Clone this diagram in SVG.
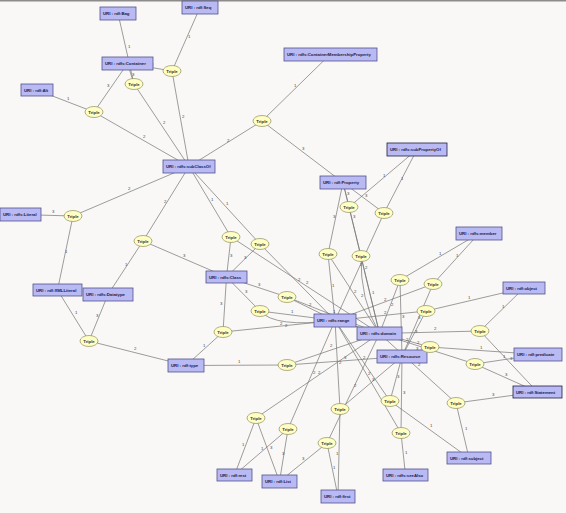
<svg xmlns="http://www.w3.org/2000/svg" width="566" height="513" viewBox="0 0 566 513">
<style>
.e{stroke:#747474;stroke-width:0.7;fill:none}
.l{font-family:"Liberation Sans",sans-serif;font-size:4.3px;fill:#444}
.r{fill:#b9b9f3;stroke:#50508c;stroke-width:0.8}
.t{font-family:"Liberation Sans",sans-serif;font-size:4.3px;font-weight:bold;fill:#1c1c44}
.o{fill:#ffffc4;stroke:#8e8e5c;stroke-width:0.7}
.ot{font-family:"Liberation Sans",sans-serif;font-size:4.3px;font-weight:bold;fill:#333;text-anchor:middle}
</style>
<rect width="566" height="513" fill="#f9f8f6"/>
<rect width="566" height="1.5" fill="#8c8c8c"/>
<g id="connectors">
<!-- T1 -->
<line class="e" x1="172" y1="71" x2="200" y2="7.5"/><text class="l" x="188" y="38">1</text>
<line class="e" x1="172" y1="71" x2="189" y2="166.5"/><text class="l" x="182" y="118">2</text>
<line class="e" x1="172" y1="71" x2="127.5" y2="63.5"/><text class="l" x="151" y="66">3</text>
<!-- T2 -->
<line class="e" x1="134" y1="84" x2="118" y2="13.5"/><text class="l" x="128" y="48">1</text>
<line class="e" x1="134" y1="84" x2="189" y2="166.5"/><text class="l" x="163" y="124">2</text>
<line class="e" x1="134" y1="84" x2="127.5" y2="63.5"/><text class="l" x="132" y="76">3</text>
<!-- T3 -->
<line class="e" x1="94" y1="112" x2="37" y2="90"/><text class="l" x="67" y="100">1</text>
<line class="e" x1="94" y1="112" x2="189" y2="166.5"/><text class="l" x="143" y="138">2</text>
<line class="e" x1="94" y1="112" x2="127.5" y2="63.5"/><text class="l" x="107" y="87">3</text>
<!-- T4 -->
<line class="e" x1="262" y1="121" x2="330" y2="54.5"/><text class="l" x="294" y="87">1</text>
<line class="e" x1="262" y1="121" x2="189" y2="166.5"/><text class="l" x="227" y="142">2</text>
<line class="e" x1="262" y1="121" x2="343" y2="182.5"/><text class="l" x="302" y="150">3</text>
<!-- T5 -->
<line class="e" x1="73" y1="216" x2="57.5" y2="290"/><text class="l" x="65" y="253">1</text>
<line class="e" x1="73" y1="216" x2="189" y2="166.5"/><text class="l" x="128" y="190">2</text>
<line class="e" x1="73" y1="216" x2="20" y2="214.5"/><text class="l" x="52" y="213">3</text>
<!-- T6 -->
<line class="e" x1="143" y1="241" x2="108" y2="294.5"/><text class="l" x="125" y="266">1</text>
<line class="e" x1="143" y1="241" x2="189" y2="166.5"/><text class="l" x="164" y="203">2</text>
<line class="e" x1="143" y1="241" x2="226.5" y2="277"/><text class="l" x="183" y="257">3</text>
<!-- T7 -->
<line class="e" x1="231" y1="237" x2="189" y2="166.5"/><text class="l" x="211" y="201">1</text>
<line class="e" x1="231" y1="237" x2="379.5" y2="333.5"/><text class="l" x="306" y="284">2</text>
<line class="e" x1="231" y1="237" x2="226.5" y2="277"/><text class="l" x="230" y="257">3</text>
<!-- T8 -->
<line class="e" x1="260" y1="244" x2="189" y2="166.5"/><text class="l" x="226" y="205">1</text>
<line class="e" x1="260" y1="244" x2="335" y2="320.5"/><text class="l" x="298" y="281">2</text>
<line class="e" x1="260" y1="244" x2="226.5" y2="277"/><text class="l" x="244" y="259">3</text>
<!-- T9 -->
<line class="e" x1="349" y1="207" x2="417" y2="149.5"/><text class="l" x="383" y="177">1</text>
<line class="e" x1="349" y1="207" x2="379.5" y2="333.5"/><text class="l" x="365" y="269">2</text>
<line class="e" x1="349" y1="207" x2="343" y2="182.5"/><text class="l" x="347" y="195">3</text>
<!-- T10 -->
<line class="e" x1="384" y1="213" x2="417" y2="149.5"/><text class="l" x="401" y="180">1</text>
<line class="e" x1="384" y1="213" x2="335" y2="320.5"/><text class="l" x="360" y="266">2</text>
<line class="e" x1="384" y1="213" x2="343" y2="182.5"/><text class="l" x="365" y="197">3</text>
<!-- T11 -->
<line class="e" x1="328" y1="254" x2="335" y2="320.5"/><text class="l" x="332" y="287">1</text>
<line class="e" x1="328" y1="254" x2="379.5" y2="333.5"/><text class="l" x="354" y="293">2</text>
<line class="e" x1="328" y1="254" x2="343" y2="182.5"/><text class="l" x="333" y="218">3</text>
<!-- T12 -->
<line class="e" x1="361" y1="256" x2="379.5" y2="333.5"/><text class="l" x="372" y="294">1</text>
<path class="e" d="M361 256 Q360 300 379.5 333.5"/><text class="l" x="361" y="297">2</text>
<line class="e" x1="361" y1="256" x2="343" y2="182.5"/><text class="l" x="353" y="218">3</text>
<!-- T13 -->
<line class="e" x1="400" y1="280" x2="479" y2="233.5"/><text class="l" x="439" y="255">1</text>
<line class="e" x1="400" y1="280" x2="379.5" y2="333.5"/><text class="l" x="391" y="306">2</text>
<line class="e" x1="400" y1="280" x2="402" y2="356.5"/><text class="l" x="402" y="318">3</text>
<!-- T14 -->
<line class="e" x1="433" y1="284" x2="479" y2="233.5"/><text class="l" x="456" y="257">1</text>
<line class="e" x1="433" y1="284" x2="335" y2="320.5"/><text class="l" x="384" y="301">2</text>
<line class="e" x1="433" y1="284" x2="402" y2="356.5"/><text class="l" x="418" y="319">3</text>
<!-- T15 -->
<line class="e" x1="426" y1="311" x2="524" y2="288"/><text class="l" x="468" y="299">1</text>
<line class="e" x1="426" y1="311" x2="335" y2="320.5"/><text class="l" x="384" y="314">2</text>
<line class="e" x1="426" y1="311" x2="402" y2="356.5"/><text class="l" x="415" y="333">3</text>
<!-- T16 -->
<line class="e" x1="480" y1="331" x2="524" y2="288"/><text class="l" x="502" y="308">1</text>
<line class="e" x1="480" y1="331" x2="379.5" y2="333.5"/><text class="l" x="434" y="330">2</text>
<line class="e" x1="480" y1="331" x2="537.5" y2="392"/><text class="l" x="510" y="360">3</text>
<!-- T17 -->
<line class="e" x1="260" y1="311" x2="335" y2="320.5"/><text class="l" x="291" y="313">1</text>
<path class="e" d="M260 311 Q275 328 335 320.5"/><text class="l" x="285" y="327">2</text>
<line class="e" x1="260" y1="311" x2="226.5" y2="277"/><text class="l" x="245" y="293">3</text>
<!-- T18 -->
<line class="e" x1="287" y1="297" x2="379.5" y2="333.5"/><text class="l" x="333" y="313">1</text>
<line class="e" x1="287" y1="297" x2="335" y2="320.5"/><text class="l" x="309" y="306">2</text>
<line class="e" x1="287" y1="297" x2="226.5" y2="277"/><text class="l" x="258" y="286">3</text>
<!-- T19 -->
<line class="e" x1="223" y1="332" x2="186" y2="365.5"/><text class="l" x="203" y="347">1</text>
<line class="e" x1="223" y1="332" x2="335" y2="320.5"/><text class="l" x="280" y="325">2</text>
<line class="e" x1="223" y1="332" x2="226.5" y2="277"/><text class="l" x="220" y="305">3</text>
<!-- T20 -->
<line class="e" x1="287" y1="365" x2="186" y2="365.5"/><text class="l" x="238" y="363">1</text>
<line class="e" x1="287" y1="365" x2="379.5" y2="333.5"/><text class="l" x="330" y="347">2</text>
<line class="e" x1="287" y1="365" x2="402" y2="356.5"/><text class="l" x="344" y="359">3</text>
<!-- T21 -->
<line class="e" x1="430" y1="347" x2="538" y2="354.5"/><text class="l" x="480" y="349">1</text>
<line class="e" x1="430" y1="347" x2="335" y2="320.5"/><text class="l" x="406" y="341">2</text>
<line class="e" x1="430" y1="347" x2="402" y2="356.5"/><text class="l" x="416" y="350">3</text>
<!-- T22 -->
<line class="e" x1="475" y1="364" x2="538" y2="354.5"/><text class="l" x="503" y="358">1</text>
<line class="e" x1="475" y1="364" x2="379.5" y2="333.5"/><text class="l" x="417" y="344">2</text>
<line class="e" x1="475" y1="364" x2="537.5" y2="392"/><text class="l" x="505" y="376">3</text>
<!-- T23 -->
<line class="e" x1="390" y1="401" x2="469" y2="458"/><text class="l" x="430" y="427">1</text>
<line class="e" x1="390" y1="401" x2="335" y2="320.5"/><text class="l" x="363" y="359">2</text>
<line class="e" x1="390" y1="401" x2="402" y2="356.5"/><text class="l" x="397" y="378">3</text>
<!-- T24 -->
<line class="e" x1="456" y1="403" x2="469" y2="458"/><text class="l" x="465" y="430">1</text>
<line class="e" x1="456" y1="403" x2="379.5" y2="333.5"/><text class="l" x="418" y="366">2</text>
<line class="e" x1="456" y1="403" x2="537.5" y2="392"/><text class="l" x="492" y="396">3</text>
<!-- T25 -->
<line class="e" x1="401" y1="433" x2="405.5" y2="475"/><text class="l" x="405" y="454">1</text>
<line class="e" x1="401" y1="433" x2="335" y2="320.5"/><text class="l" x="368" y="375">2</text>
<line class="e" x1="401" y1="433" x2="402" y2="356.5"/><text class="l" x="403" y="394">3</text>
<!-- T26 -->
<line class="e" x1="340" y1="409" x2="338" y2="496.5"/><text class="l" x="336" y="455">1</text>
<line class="e" x1="340" y1="409" x2="335" y2="320.5"/><text class="l" x="339" y="364">2</text>
<line class="e" x1="340" y1="409" x2="402" y2="356.5"/><text class="l" x="372" y="381">3</text>
<!-- T27 -->
<line class="e" x1="288" y1="429" x2="234.5" y2="475"/><text class="l" x="261" y="450">1</text>
<line class="e" x1="288" y1="429" x2="335" y2="320.5"/><text class="l" x="313" y="374">2</text>
<line class="e" x1="288" y1="429" x2="279.5" y2="481.5"/><text class="l" x="282" y="455">3</text>
<!-- T28 -->
<line class="e" x1="256" y1="418" x2="234.5" y2="475"/><text class="l" x="242" y="446">1</text>
<line class="e" x1="256" y1="418" x2="379.5" y2="333.5"/><text class="l" x="318" y="374">2</text>
<line class="e" x1="256" y1="418" x2="279.5" y2="481.5"/><text class="l" x="270" y="449">3</text>
<!-- T29 -->
<line class="e" x1="327" y1="443" x2="338" y2="496.5"/><text class="l" x="333" y="469">1</text>
<line class="e" x1="327" y1="443" x2="379.5" y2="333.5"/><text class="l" x="354" y="387">2</text>
<line class="e" x1="327" y1="443" x2="279.5" y2="481.5"/><text class="l" x="302" y="460">3</text>
<!-- T30 -->
<line class="e" x1="89" y1="341" x2="57.5" y2="290"/><text class="l" x="75" y="314">1</text>
<line class="e" x1="89" y1="341" x2="186" y2="365.5"/><text class="l" x="134" y="350">2</text>
<line class="e" x1="89" y1="341" x2="108" y2="294.5"/><text class="l" x="96" y="317">3</text>
</g>
<g id="n-bag"><rect class="r" x="100" y="7" width="36" height="13"/><text class="t" x="103" y="15">URI : rdf:Bag</text></g>
<g id="n-seq"><rect class="r" x="182" y="1" width="36" height="13"/><text class="t" x="185" y="9">URI : rdf:Seq</text></g>
<g id="n-container"><rect class="r" x="102" y="57" width="51" height="13"/><text class="t" x="105" y="65">URI : rdfs:Container</text></g>
<g id="n-alt"><rect class="r" x="21" y="84" width="32" height="12"/><text class="t" x="24" y="91.5">URI : rdf:Alt</text></g>
<g id="n-cmp"><rect class="r" x="284" y="48" width="93" height="13"/><text class="t" x="287" y="56">URI : rdfs:ContainerMembershipProperty</text></g>
<g id="n-subclassof"><rect class="r" x="163" y="160" width="52" height="13"/><text class="t" x="166" y="168">URI : rdfs:subClassOf</text></g>
<g id="n-property"><rect class="r" x="320" y="176" width="46" height="13"/><text class="t" x="323" y="184">URI : rdf:Property</text></g>
<g id="n-subpropertyof"><rect class="r" x="387" y="143" width="60" height="13" style="stroke:#1c1c44"/><text class="t" x="390" y="151">URI : rdfs:subPropertyOf</text></g>
<g id="n-member"><rect class="r" x="456" y="227" width="46" height="13"/><text class="t" x="459" y="235">URI : rdfs:member</text></g>
<g id="n-literal"><rect class="r" x="0" y="208" width="41" height="13"/><text class="t" x="3" y="216">URI : rdfs:Literal</text></g>
<g id="n-xmlliteral"><rect class="r" x="33" y="284" width="49" height="12"/><text class="t" x="36" y="291.5">URI : rdf:XMLLiteral</text></g>
<g id="n-datatype"><rect class="r" x="83" y="288" width="50" height="13"/><text class="t" x="86" y="296">URI : rdfs:Datatype</text></g>
<g id="n-class"><rect class="r" x="206" y="271" width="41" height="12"/><text class="t" x="209" y="278.5">URI : rdfs:Class</text></g>
<g id="n-range"><rect class="r" x="314" y="314" width="42" height="13"/><text class="t" x="317" y="322">URI : rdfs:range</text></g>
<g id="n-domain"><rect class="r" x="357" y="327" width="45" height="13"/><text class="t" x="360" y="335">URI : rdfs:domain</text></g>
<g id="n-resource"><rect class="r" x="377" y="350" width="50" height="13"/><text class="t" x="380" y="358">URI : rdfs:Resource</text></g>
<g id="n-type"><rect class="r" x="168" y="359" width="36" height="13"/><text class="t" x="171" y="367">URI : rdf:type</text></g>
<g id="n-object"><rect class="r" x="503" y="282" width="42" height="12"/><text class="t" x="506" y="289.5">URI : rdf:object</text></g>
<g id="n-predicate"><rect class="r" x="514" y="348" width="48" height="13"/><text class="t" x="517" y="356">URI : rdf:predicate</text></g>
<g id="n-statement"><rect class="r" x="513" y="386" width="49" height="12" style="stroke:#1c1c44"/><text class="t" x="516" y="393.5">URI : rdf:Statement</text></g>
<g id="n-subject"><rect class="r" x="447" y="452" width="44" height="12"/><text class="t" x="450" y="459.5">URI : rdf:subject</text></g>
<g id="n-seealso"><rect class="r" x="383" y="469" width="45" height="12"/><text class="t" x="386" y="476.5">URI : rdfs:seeAlso</text></g>
<g id="n-rest"><rect class="r" x="217" y="469" width="35" height="12"/><text class="t" x="220" y="476.5">URI : rdf:rest</text></g>
<g id="n-list"><rect class="r" x="262" y="475" width="35" height="13"/><text class="t" x="265" y="483">URI : rdf:List</text></g>
<g id="n-first"><rect class="r" x="321" y="490" width="34" height="13"/><text class="t" x="324" y="498">URI : rdf:first</text></g>
<g id="t1"><ellipse class="o" cx="172" cy="71" rx="9" ry="5.5"/><text class="ot" x="172" y="72.5">Triple</text></g>
<g id="t2"><ellipse class="o" cx="134" cy="84" rx="9" ry="5.5"/><text class="ot" x="134" y="85.5">Triple</text></g>
<g id="t3"><ellipse class="o" cx="94" cy="112" rx="9" ry="5.5"/><text class="ot" x="94" y="113.5">Triple</text></g>
<g id="t4"><ellipse class="o" cx="262" cy="121" rx="9" ry="5.5"/><text class="ot" x="262" y="122.5">Triple</text></g>
<g id="t5"><ellipse class="o" cx="73" cy="216" rx="9" ry="5.5"/><text class="ot" x="73" y="217.5">Triple</text></g>
<g id="t6"><ellipse class="o" cx="143" cy="241" rx="9" ry="5.5"/><text class="ot" x="143" y="242.5">Triple</text></g>
<g id="t7"><ellipse class="o" cx="231" cy="237" rx="9" ry="5.5"/><text class="ot" x="231" y="238.5">Triple</text></g>
<g id="t8"><ellipse class="o" cx="260" cy="244" rx="9" ry="5.5"/><text class="ot" x="260" y="245.5">Triple</text></g>
<g id="t9"><ellipse class="o" cx="349" cy="207" rx="9" ry="5.5"/><text class="ot" x="349" y="208.5">Triple</text></g>
<g id="t10"><ellipse class="o" cx="384" cy="213" rx="9" ry="5.5"/><text class="ot" x="384" y="214.5">Triple</text></g>
<g id="t11"><ellipse class="o" cx="328" cy="254" rx="9" ry="5.5"/><text class="ot" x="328" y="255.5">Triple</text></g>
<g id="t12"><ellipse class="o" cx="361" cy="256" rx="9" ry="5.5"/><text class="ot" x="361" y="257.5">Triple</text></g>
<g id="t13"><ellipse class="o" cx="400" cy="280" rx="9" ry="5.5"/><text class="ot" x="400" y="281.5">Triple</text></g>
<g id="t14"><ellipse class="o" cx="433" cy="284" rx="9" ry="5.5"/><text class="ot" x="433" y="285.5">Triple</text></g>
<g id="t15"><ellipse class="o" cx="426" cy="311" rx="9" ry="5.5"/><text class="ot" x="426" y="312.5">Triple</text></g>
<g id="t16"><ellipse class="o" cx="480" cy="331" rx="9" ry="5.5"/><text class="ot" x="480" y="332.5">Triple</text></g>
<g id="t17"><ellipse class="o" cx="260" cy="311" rx="9" ry="5.5"/><text class="ot" x="260" y="312.5">Triple</text></g>
<g id="t18"><ellipse class="o" cx="287" cy="297" rx="9" ry="5.5"/><text class="ot" x="287" y="298.5">Triple</text></g>
<g id="t19"><ellipse class="o" cx="223" cy="332" rx="9" ry="5.5"/><text class="ot" x="223" y="333.5">Triple</text></g>
<g id="t20"><ellipse class="o" cx="287" cy="365" rx="9" ry="5.5"/><text class="ot" x="287" y="366.5">Triple</text></g>
<g id="t21"><ellipse class="o" cx="430" cy="347" rx="9" ry="5.5"/><text class="ot" x="430" y="348.5">Triple</text></g>
<g id="t22"><ellipse class="o" cx="475" cy="364" rx="9" ry="5.5"/><text class="ot" x="475" y="365.5">Triple</text></g>
<g id="t23"><ellipse class="o" cx="390" cy="401" rx="9" ry="5.5"/><text class="ot" x="390" y="402.5">Triple</text></g>
<g id="t24"><ellipse class="o" cx="456" cy="403" rx="9" ry="5.5"/><text class="ot" x="456" y="404.5">Triple</text></g>
<g id="t25"><ellipse class="o" cx="401" cy="433" rx="9" ry="5.5"/><text class="ot" x="401" y="434.5">Triple</text></g>
<g id="t26"><ellipse class="o" cx="340" cy="409" rx="9" ry="5.5"/><text class="ot" x="340" y="410.5">Triple</text></g>
<g id="t27"><ellipse class="o" cx="288" cy="429" rx="9" ry="5.5"/><text class="ot" x="288" y="430.5">Triple</text></g>
<g id="t28"><ellipse class="o" cx="256" cy="418" rx="9" ry="5.5"/><text class="ot" x="256" y="419.5">Triple</text></g>
<g id="t29"><ellipse class="o" cx="327" cy="443" rx="9" ry="5.5"/><text class="ot" x="327" y="444.5">Triple</text></g>
<g id="t30"><ellipse class="o" cx="89" cy="341" rx="9" ry="5.5"/><text class="ot" x="89" y="342.5">Triple</text></g>
</svg>
